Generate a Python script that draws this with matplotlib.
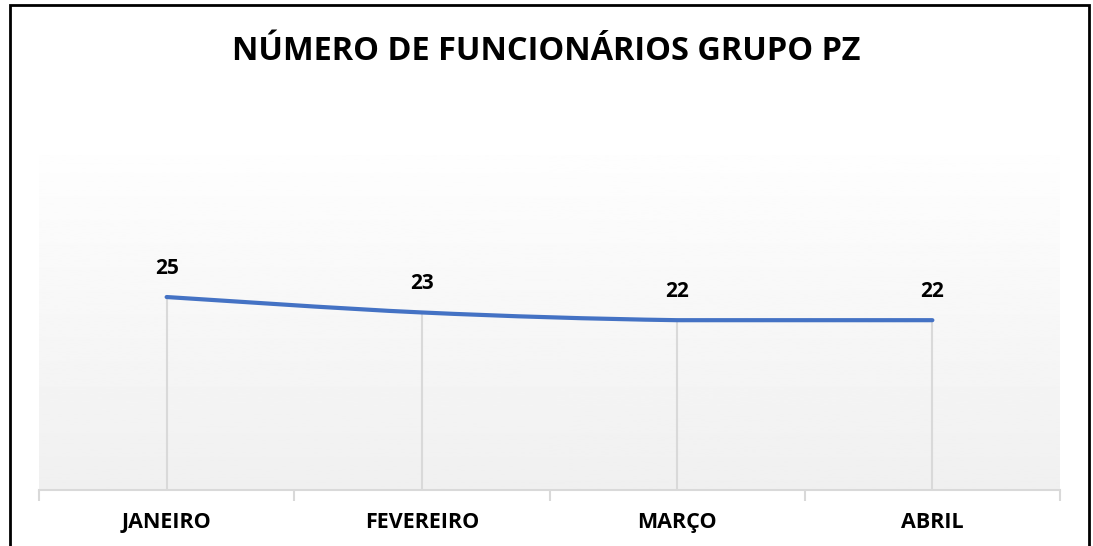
import numpy as np
import matplotlib.pyplot as plt
from matplotlib.path import Path
from matplotlib.patches import PathPatch, Rectangle

meses = ["JANEIRO", "FEVEREIRO", "MARÇO", "ABRIL"]
funcionarios = [25, 23, 22, 22]

plt.rcParams['font.family'] = ['Open Sans', 'DejaVu Sans']
plt.rcParams['font.stretch'] = 'normal'

fig = plt.figure(figsize=(10.93, 5.46), dpi=100)
ax = fig.add_axes([39 / 1093, 1 - 490 / 546, (1060 - 39) / 1093, (490 - 155) / 546])

x = np.arange(len(meses))
ymax = 43.4
ax.set_xlim(-0.5, len(meses) - 0.5)
ax.set_ylim(0, ymax)

# gradient background of the plot area
grad = np.linspace(0.94, 0.995, 256).reshape(-1, 1)
ax.imshow(grad, extent=(-0.5, len(meses) - 0.5, 0, ymax), origin='lower',
          cmap='gray', vmin=0, vmax=1, aspect='auto', zorder=0)

# drop lines
ax.vlines(x, 0, funcionarios, color='#d9d9d9', lw=1.5, zorder=1)

# smoothed line (catmull-rom through the points)
pts = np.column_stack([x, funcionarios]).astype(float)
verts = [pts[0]]
codes = [Path.MOVETO]
for i in range(len(pts) - 1):
    p0 = pts[max(i - 1, 0)]
    p1 = pts[i]
    p2 = pts[i + 1]
    p3 = pts[min(i + 2, len(pts) - 1)]
    c1 = p1 + (p2 - p0) / 6
    c2 = p2 - (p3 - p1) / 6
    if p2[1] == p1[1]:
        c1[1] = c2[1] = p1[1]
    verts += [c1, c2, p2]
    codes += [Path.CURVE4] * 3
ax.add_patch(PathPatch(Path(verts, codes), fill=False, edgecolor='#4472C4',
                       lw=3, capstyle='round', zorder=3))

for xi, v in zip(x, funcionarios):
    ax.annotate(str(v), (xi, v), xytext=(0, 13), textcoords='offset points',
                ha='center', va='bottom', fontsize=15, fontweight='bold', color='black')

for s in ['top', 'right', 'left']:
    ax.spines[s].set_visible(False)
ax.spines['bottom'].set_color('#d9d9d9')
ax.spines['bottom'].set_linewidth(1.5)
ax.set_yticks([])
ax.set_xticks(x)
ax.set_xticklabels(meses, fontsize=15.5, fontweight='bold')
ax.tick_params(axis='x', which='major', length=0, pad=15.5)
ax.set_xticks(np.arange(-0.5, len(meses)), minor=True)
ax.tick_params(axis='x', which='minor', length=8, width=1.5, color='#d9d9d9')

fig.text(0.5, 1 - 52 / 546, "NÚMERO DE FUNCIONÁRIOS GRUPO PZ", ha='center', va='center',
         fontsize=23.4, fontweight='bold')

fig.patches.append(Rectangle((10 / 1093, -0.05), (1089 - 10) / 1093, 1.05 - 5 / 546,
                             transform=fig.transFigure, fill=False, edgecolor='black', lw=2))

fig.savefig("out.png", dpi=100)
